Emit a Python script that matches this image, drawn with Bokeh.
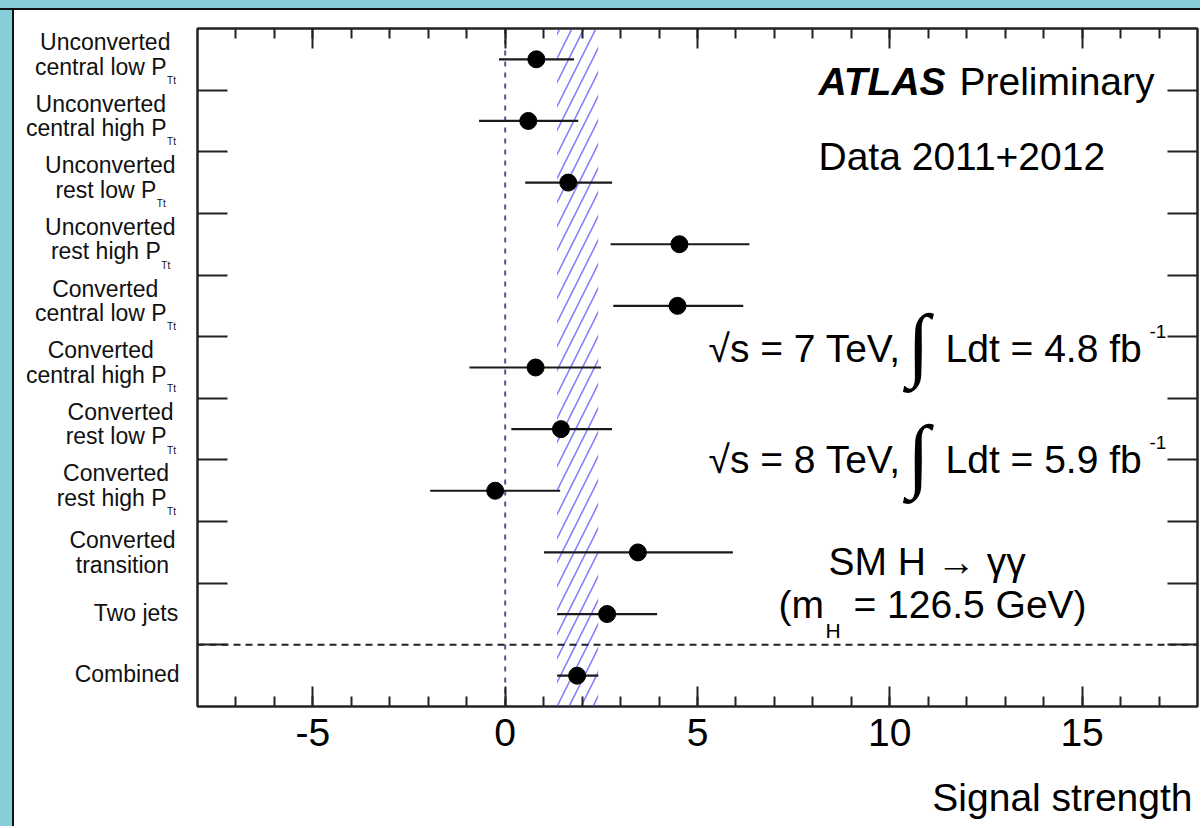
from bokeh.plotting import figure
from bokeh.layouts import row, column
from bokeh.models import (ColumnDataSource, FixedTicker, LinearAxis, Span, Label,
                          Range1d, Div)
from bokeh.core.properties import value
from bokeh.embed import file_html
from bokeh.resources import INLINE

# ---------------- data ----------------
label_line1 = ["Unconverted", "Unconverted", "Unconverted", "Unconverted",
               "Converted", "Converted", "Converted", "Converted", "Converted",
               "Two jets", "Combined"]
label_line2 = ["central low P", "central high P", "rest low P", "rest high P",
               "central low P", "central high P", "rest low P", "rest high P",
               "transition", "", ""]
label_sub = ["Tt", "Tt", "Tt", "Tt", "Tt", "Tt", "Tt", "Tt", "", "", ""]
mu = [0.81, 0.60, 1.64, 4.53, 4.48, 0.79, 1.45, -0.26, 3.45, 2.65, 1.87]
err_low = [-0.16, -0.68, 0.52, 2.74, 2.81, -0.93, 0.16, -1.95, 1.01, 1.35, 1.35]
err_high = [1.79, 1.90, 2.78, 6.35, 6.19, 2.49, 2.78, 1.43, 5.92, 3.95, 2.42]
band_low, band_high = 1.35, 2.42
x_major = [-5, 0, 5, 10, 15]
x_major_labels = {-5: "-5", 0: "0", 5: "5", 10: "10", 15: "15"}
x_minor = list(range(-7, 18))
x_lim = (-8, 18)
n_cat = len(label_line1)
x_title = "Signal strength"

# ---------------- geometry (page pixels) ----------------
TOTAL_W, TOTAL_H = 1200, 826
STRIP_H = 10            # teal strip on top (with black edge)
EDGE_W = 14             # teal strip on the left (with black edge)
LW = 190                # right end of the label column
ROW_B = 760             # bottom of the plot row; x title strip below
FRAME_L, FRAME_R = 197, 1197
FRAME_T, FRAME_B = 28, 706
MW = TOTAL_W - LW
MH = ROW_B - STRIP_H
BH = TOTAL_H - ROW_B
PX_X = (FRAME_R - FRAME_L) / (x_lim[1] - x_lim[0])
PX_Y = (FRAME_B - FRAME_T) / n_cat
FONT = "Liberation Sans"
TEAL = "#86cfd8"
AXC = "#222222"
BASE_FIX = 0.36         # svg text sits lower than the alphabetic baseline


def X(page_x):
    return x_lim[0] + (page_x - FRAME_L) / PX_X


def Y(page_y):
    return n_cat - (page_y - FRAME_T) / PX_Y


AW = {' ': 278, 'C': 722, 'P': 667, 'T': 611, 'U': 722, 'a': 556, 'b': 556,
      'c': 500, 'd': 556, 'e': 556, 'g': 556, 'h': 556, 'i': 222, 'j': 222,
      'l': 222, 'm': 833, 'n': 556, 'o': 556, 'r': 333, 's': 500, 't': 278,
      'v': 500, 'w': 722}


def tw(s, fs):
    return sum(AW.get(c, 556) for c in s) / 1000.0 * fs


def edge_div(h):
    return Div(text="", width=EDGE_W, height=h, margin=0,
               styles={"background": f"linear-gradient(to right, {TEAL} 0px, {TEAL} 12px, "
                                     f"#111111 12px, #111111 14px)"})


def bare(fig):
    fig.grid.visible = False
    fig.outline_line_color = None
    fig.background_fill_color = "white"
    fig.border_fill_color = "white"


# ---------------- teal top edge (decoration) ----------------
top = Div(text="", width=TOTAL_W, height=STRIP_H, margin=0,
          styles={"background": f"linear-gradient(to bottom, {TEAL} 0px, {TEAL} 8px, "
                                f"#111111 8px, #111111 10px)"})

# ---------------- label column ----------------
lab = figure(width=LW - EDGE_W, height=MH, x_range=Range1d(EDGE_W, LW),
             y_range=Range1d(0, n_cat), output_backend="svg",
             toolbar_location=None, x_axis_location=None, y_axis_location=None,
             min_border_left=0, min_border_right=0,
             min_border_top=FRAME_T - STRIP_H, min_border_bottom=ROW_B - FRAME_B)
bare(lab)

FS = 23
SFS = 10
R2 = 175     # right edge of two-line labels
R1 = 179     # right edge of one-line labels
lx, ly, lt = [], [], []
sx, sy, st = [], [], []
for i in range(n_cat):
    c = FRAME_T + (i + 0.5) * PX_Y - BASE_FIX * FS
    l1, l2, sb = label_line1[i], label_line2[i], label_sub[i]
    w1 = tw(l1, FS)
    w2 = tw(l2, FS) + (tw(sb, SFS) if sb else 0)
    if l2:
        if sb:
            b1, b2 = c - 9, c + 15.5
        else:
            b1, b2 = c - 4, c + 21
        cx = R2 - max(w1, w2) / 2
        lx.append(cx - w1 / 2); ly.append(Y(b1)); lt.append(l1)
        x2 = cx - w2 / 2
        lx.append(x2); ly.append(Y(b2)); lt.append(l2)
        if sb:
            sx.append(x2 + tw(l2, FS) + 0.5)
            sy.append(Y(b2 + BASE_FIX * FS + 9 - BASE_FIX * SFS))
            st.append(sb)
    else:
        lx.append(R1 - w1); ly.append(Y(c + 7)); lt.append(l1)

lab.text(x=lx, y=ly, text=lt, text_font=value(FONT),
         text_font_size=value(f"{FS}px"), text_baseline="alphabetic",
         text_align="left", text_color="#111111")
lab.text(x=sx, y=sy, text=st, text_font=value(FONT),
         text_font_size=value(f"{SFS}px"), text_baseline="alphabetic",
         text_align="left", text_color="#111111")

# ---------------- main plot ----------------
src = ColumnDataSource(dict(y=[n_cat - i - 0.5 for i in range(n_cat)],
                            mu=mu, lo=err_low, hi=err_high))

p = figure(width=MW, height=MH, x_range=Range1d(*x_lim),
           y_range=Range1d(0, n_cat), output_backend="svg",
           toolbar_location=None, x_axis_location=None, y_axis_location=None,
           min_border_left=FRAME_L - LW, min_border_right=TOTAL_W - FRAME_R,
           min_border_top=FRAME_T - STRIP_H, min_border_bottom=ROW_B - FRAME_B)
p.grid.visible = False
p.outline_line_color = AXC
p.outline_line_width = 2
p.background_fill_color = "white"
p.border_fill_color = "white"


def xaxis(labels):
    ax = LinearAxis(ticker=FixedTicker(ticks=x_major, minor_ticks=x_minor),
                    major_tick_in=20, major_tick_out=0,
                    minor_tick_in=10, minor_tick_out=0,
                    axis_line_color=AXC, axis_line_width=2,
                    major_tick_line_color=AXC, major_tick_line_width=2,
                    minor_tick_line_color=AXC, minor_tick_line_width=2)
    if labels:
        ax.major_label_overrides = x_major_labels
        ax.major_label_text_font = FONT
        ax.major_label_text_font_size = "39px"
        ax.major_label_text_color = "black"
        ax.major_label_standoff = 12
    else:
        ax.major_label_overrides = {t: "" for t in x_major}
        ax.major_label_standoff = 0
    return ax


def yaxis():
    ticks = list(range(1, n_cat))
    return LinearAxis(ticker=FixedTicker(ticks=ticks),
                      major_tick_in=30, major_tick_out=0,
                      minor_tick_in=0, minor_tick_out=0,
                      axis_line_color=AXC, axis_line_width=2,
                      major_tick_line_color=AXC, major_tick_line_width=2,
                      major_label_overrides={t: "" for t in ticks},
                      major_label_standoff=0)


p.add_layout(xaxis(True), "below")
p.add_layout(xaxis(False), "above")
p.add_layout(yaxis(), "left")
p.add_layout(yaxis(), "right")

# hatched combined band
p.quad(left=[band_low], right=[band_high], bottom=[0], top=[n_cat],
       fill_alpha=0, line_alpha=0, hatch_pattern="/", hatch_color="#8080ff",
       hatch_scale=24, hatch_weight=1.6)

p.add_layout(Span(location=0, dimension="height", line_color="#55558f",
                  line_width=2, line_dash="5 6", level="underlay"))
p.add_layout(Span(location=1, dimension="width", line_color="#222222",
                  line_width=2, line_dash="7 5"))

p.segment(x0="lo", x1="hi", y0="y", y1="y", source=src, line_color="#1a1a1a",
          line_width=2.2)
p.scatter(x="mu", y="y", source=src, size=17, color="black")


def note(text, px, py, fs, align="left", style="normal", baseline="alphabetic",
         font=FONT, fix=True):
    py = py - (BASE_FIX * fs if fix else 0)
    p.add_layout(Label(x=X(px), y=Y(py), text=text, text_font=font,
                       text_font_size=f"{fs}px", text_align=align,
                       text_baseline=baseline, text_font_style=style,
                       text_color="black"))


note("ATLAS", 818, 95, 39, style="bold italic")
note("Preliminary", 959, 95, 39)
note("Data 2011+2012", 818, 170, 39)

for base, e, lumi in [(362, "7", "4.8"), (473, "8", "5.9")]:
    note(f"\u221as = {e} TeV,", 708, base, 39)
    note("\u222b", 918, base - 19, 82, align="center", baseline="middle",
         font="Liberation Serif", fix=False)
    note(f"Ldt = {lumi} fb", 945, base, 39)
    note("-1", 1149, base - 24, 19)

note("SM H \u2192 \u03b3\u03b3", 828, 575, 39)
note("(m", 778, 618, 39)
note("H", 825, 638, 21)
note("= 126.5 GeV)", 853, 618, 39)

# ---------------- x-axis title strip ----------------
bot = figure(width=TOTAL_W - EDGE_W, height=BH, x_range=Range1d(EDGE_W, TOTAL_W),
             y_range=Range1d(TOTAL_H, ROW_B), output_backend="svg",
             toolbar_location=None, x_axis_location=None, y_axis_location=None,
             min_border_left=0, min_border_right=0, min_border_top=0,
             min_border_bottom=0)
bare(bot)
bot.text(x=[1192], y=[811 - BASE_FIX * 39], text=[x_title], text_font=value(FONT),
         text_font_size=value("39px"), text_baseline="alphabetic",
         text_align="right", text_color="black")

layout = column(top, row(edge_div(MH), lab, p), row(edge_div(BH), bot))
open("out.html", "w").write(file_html(layout, INLINE))
